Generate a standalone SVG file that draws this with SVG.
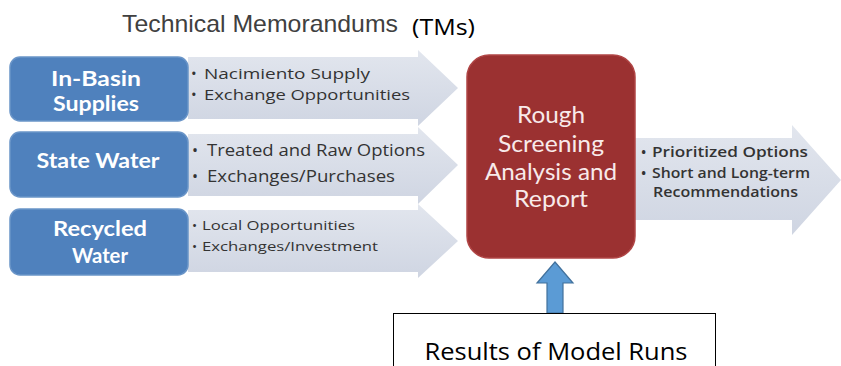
<svg xmlns="http://www.w3.org/2000/svg" width="841" height="366" viewBox="0 0 841 366">
<defs>
<linearGradient id="ag" x1="0" y1="0" x2="0" y2="1">
<stop offset="0" stop-color="#e2e6ee"/>
<stop offset="1" stop-color="#cfd5e2"/>
</linearGradient>
<style>
.arrow{fill:url(#ag);stroke:none}
.blue{fill:#4f81bd;stroke:#6a95c8;stroke-width:1.5}
.btxt{font-family:Lato,"Open Sans","Liberation Sans",sans-serif;font-weight:700;font-size:21px;fill:#ffffff;text-anchor:middle}
.bul{font-family:"Open Sans","Liberation Sans",sans-serif;fill:#333333}
.red{fill:#9b3131;stroke:#b04545;stroke-width:1.5}
.rtxt{font-family:Lato,"Open Sans","Liberation Sans",sans-serif;font-size:23px;fill:#f8eaea;text-anchor:middle}
</style>
</defs>
<rect width="841" height="366" fill="#ffffff"/>

<g id="title">
<text x="122" y="32" font-family="'Liberation Sans',Arial,sans-serif" font-size="24" fill="#404040" textLength="276" lengthAdjust="spacingAndGlyphs">Technical Memorandums</text>
<text x="412" y="35" font-family="'Open Sans','Liberation Sans',sans-serif" font-size="21" fill="#000000" textLength="63" lengthAdjust="spacingAndGlyphs">(TMs)</text>
</g>

<g id="connectors">
<polygon class="arrow" points="188,57 418,57 418,50 458,88 418,126 418,119 188,119"/>
<polygon class="arrow" points="188,134 418,134 418,127 458,165 418,204 418,196 188,196"/>
<polygon class="arrow" points="188,210 418,210 418,204 458,241 418,278 418,272 188,272"/>
<polygon class="arrow" points="635,138 792,138 792,125 841,180 792,235 792,220 635,220"/>
<polygon points="555,262 573,283 563,283 563,313 547,313 547,283 537,283" fill="#5b9bd5" stroke="#41719c" stroke-width="1.2"/>
</g>

<g id="in-basin">
<rect class="blue" x="10" y="57" width="178" height="64" rx="10"/>
<text class="btxt" x="96" y="86" textLength="90" lengthAdjust="spacingAndGlyphs">In-Basin</text>
<text class="btxt" x="96" y="111" textLength="86" lengthAdjust="spacingAndGlyphs">Supplies</text>
<text class="bul" font-size="15" x="191" y="79">•</text>
<text class="bul" font-size="15" x="204" y="79" textLength="166" lengthAdjust="spacingAndGlyphs">Nacimiento Supply</text>
<text class="bul" font-size="15" x="191" y="100">•</text>
<text class="bul" font-size="15" x="204" y="100" textLength="206" lengthAdjust="spacingAndGlyphs">Exchange Opportunities</text>
</g>

<g id="state-water">
<rect class="blue" x="10" y="132" width="178" height="65" rx="10"/>
<text class="btxt" x="98" y="168" textLength="123" lengthAdjust="spacingAndGlyphs">State Water</text>
<text class="bul" font-size="16" x="192" y="156">•</text>
<text class="bul" font-size="16" x="207" y="156" textLength="218" lengthAdjust="spacingAndGlyphs">Treated and Raw Options</text>
<text class="bul" font-size="16" x="192" y="182">•</text>
<text class="bul" font-size="16" x="207" y="182" textLength="188" lengthAdjust="spacingAndGlyphs">Exchanges/Purchases</text>
</g>

<g id="recycled-water">
<rect class="blue" x="10" y="209" width="178" height="66" rx="10"/>
<text class="btxt" x="100" y="236" textLength="94" lengthAdjust="spacingAndGlyphs">Recycled</text>
<text class="btxt" x="100" y="263" textLength="56" lengthAdjust="spacingAndGlyphs">Water</text>
<text class="bul" font-size="13.5" x="192" y="230">•</text>
<text class="bul" font-size="13.5" x="202" y="230" textLength="153" lengthAdjust="spacingAndGlyphs">Local Opportunities</text>
<text class="bul" font-size="13.5" x="192" y="251">•</text>
<text class="bul" font-size="13.5" x="202" y="251" textLength="176" lengthAdjust="spacingAndGlyphs">Exchanges/Investment</text>
</g>

<g id="screening">
<rect class="red" x="467" y="55" width="168" height="203" rx="22"/>
<text class="rtxt" x="551" y="123" textLength="68" lengthAdjust="spacingAndGlyphs">Rough</text>
<text class="rtxt" x="551" y="152" textLength="106" lengthAdjust="spacingAndGlyphs">Screening</text>
<text class="rtxt" x="551" y="180" textLength="132" lengthAdjust="spacingAndGlyphs">Analysis and</text>
<text class="rtxt" x="551" y="207" textLength="74" lengthAdjust="spacingAndGlyphs">Report</text>
</g>

<g id="outputs">
<text class="bul" font-size="14" font-weight="600" x="641" y="157">•</text>
<text class="bul" font-size="14" font-weight="600" x="652" y="157" textLength="156" lengthAdjust="spacingAndGlyphs">Prioritized Options</text>
<text class="bul" font-size="14" font-weight="600" x="641" y="178">•</text>
<text class="bul" font-size="14" font-weight="600" x="652" y="178" textLength="158" lengthAdjust="spacingAndGlyphs">Short and Long-term</text>
<text class="bul" font-size="14" font-weight="600" x="653" y="197" textLength="145" lengthAdjust="spacingAndGlyphs">Recommendations</text>
</g>

<g id="model-runs">
<rect x="393.5" y="313.5" width="322" height="60" fill="#ffffff" stroke="#000000" stroke-width="1"/>
<text x="556" y="360" font-family="'Open Sans','Liberation Sans',sans-serif" font-size="24" fill="#000000" text-anchor="middle" textLength="263" lengthAdjust="spacingAndGlyphs">Results of Model Runs</text>
</g>
</svg>
